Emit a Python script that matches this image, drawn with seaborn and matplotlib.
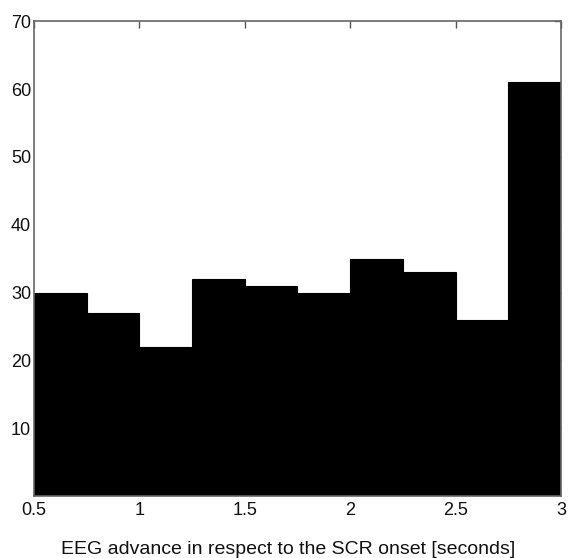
import numpy as np
import matplotlib
matplotlib.use("Agg")
import matplotlib.pyplot as plt
import seaborn as sns

# Histogram of EEG advance times (bin edges and counts per bin)
bin_edges = [0.5, 0.75, 1.0, 1.25, 1.5, 1.75, 2.0, 2.25, 2.5, 2.75, 3.0]
counts = [30, 27, 22, 32, 31, 30, 35, 33, 26, 61]
x_ticks = [0.5, 1, 1.5, 2, 2.5, 3]
x_tick_labels = ["0.5", "1", "1.5", "2", "2.5", "3"]
y_ticks = [10, 20, 30, 40, 50, 60, 70]
y_tick_labels = ["10", "20", "30", "40", "50", "60", "70"]

sns.set_style("white")
plt.rcParams["font.family"] = ["Liberation Sans", "DejaVu Sans"]
plt.rcParams["text.color"] = "#111111"
plt.rcParams["xtick.color"] = "#555555"
plt.rcParams["ytick.color"] = "#555555"
plt.rcParams["xtick.labelcolor"] = "#111111"
plt.rcParams["ytick.labelcolor"] = "#111111"
plt.rcParams["axes.labelcolor"] = "#111111"

centers = [(a + b) / 2 for a, b in zip(bin_edges[:-1], bin_edges[1:])]

fig = plt.figure(figsize=(5.73, 5.58), dpi=100)
ax = fig.add_axes([0.0593, 0.111, 0.9197, 0.851])

sns.histplot(x=centers, weights=counts, bins=bin_edges, ax=ax,
             color="black", alpha=1.0, edgecolor="black", linewidth=0.8)

ax.set_xlim(0.5, 3.0)
ax.set_ylim(0, 70)
ax.set_xticks(x_ticks)
ax.set_xticklabels(x_tick_labels)
ax.set_yticks(y_ticks)
ax.set_yticklabels(y_tick_labels)
ax.set_ylabel("")
ax.set_xlabel("EEG advance in respect to the SCR onset [seconds]", fontsize=14, labelpad=16)
ax.xaxis.label.set_x(0.482)

ax.tick_params(axis="both", direction="in", length=5, width=1,
               labelsize=13, top=True, right=True, pad=4)
ax.tick_params(axis="y", pad=2)
for s in ax.spines.values():
    s.set_color("#666666")
    s.set_linewidth(1.2)
    s.set_visible(True)

fig.savefig("out.png", dpi=100)
